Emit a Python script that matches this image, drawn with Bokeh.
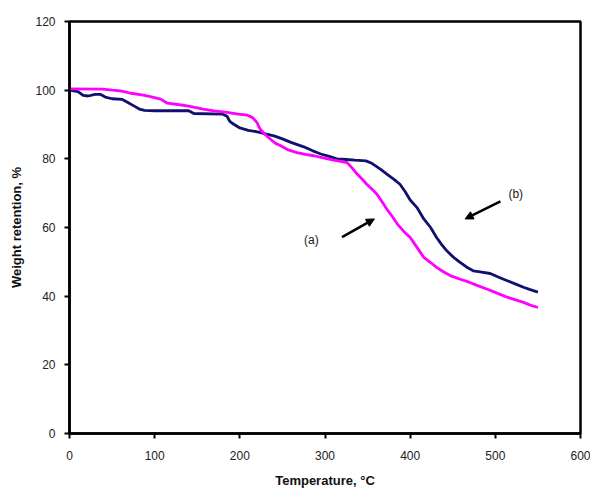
from bokeh.plotting import figure
from bokeh.models import Range1d, SingleIntervalTicker, Arrow, NormalHead, Label
from bokeh.embed import file_html
from bokeh.resources import INLINE

# Curve (b): dark blue
temp_b = [0, 10, 16, 22, 30, 36, 42, 50, 62, 68, 75, 82, 88, 100, 140, 146, 180, 185, 188,
          192, 200, 210, 222, 230, 240, 250, 260, 275, 285, 295, 305, 314, 325, 335, 348,
          355, 365, 373, 381, 388, 394, 400, 408, 416, 424, 431, 437, 443, 451, 459, 466,
          474, 484, 494, 504, 514, 524, 533, 541, 550]
weight_b = [100, 99.6, 98.5, 98.3, 98.8, 98.8, 98, 97.5, 97.3, 96.5, 95.5, 94.5, 94.1, 94, 94,
            93.2, 93, 92.4, 91, 90.2, 89, 88.3, 87.8, 87.3, 86.7, 85.8, 84.8, 83.5, 82.4,
            81.4, 80.7, 80, 79.8, 79.6, 79.4, 78.7, 77, 75.5, 74, 72.6, 70.5, 68, 65.8, 62.5,
            60, 57.1, 55, 53.2, 51.3, 49.8, 48.5, 47.4, 47, 46.6, 45.5, 44.5, 43.5, 42.6,
            41.9, 41.2]

# Curve (a): magenta
temp_a = [0, 39, 50, 60, 72, 85, 95, 107, 115, 125, 138, 147, 157, 170, 185, 198, 209, 215,
          220, 224, 230, 236, 242, 248, 257, 267, 277, 287, 298, 310, 320, 326, 332, 338,
          344, 349, 355, 361, 367, 373, 379, 385, 392, 400, 408, 416, 424, 431, 439, 447,
          458, 470, 480, 490, 502, 514, 524, 533, 541, 550]
weight_a = [100.4, 100.3, 100, 99.8, 99.1, 98.6, 98.1, 97.4, 96.2, 95.9, 95.4, 95, 94.5, 94,
            93.5, 93, 92.7, 92, 90.6, 88.6, 87, 85.7, 84.5, 83.8, 82.6, 81.8, 81.3, 80.9,
            80.3, 79.6, 79.2, 78.9, 77.3, 75.5, 74, 72.6, 71.2, 69.7, 67.5, 65.2, 63.2, 61,
            59, 57.1, 54.2, 51.3, 49.8, 48.4, 47.1, 46, 45, 44, 43, 42.1, 40.9, 39.7, 38.9,
            38.2, 37.4, 36.7]

labels = ["(a)", "(b)"]
label_x = [284, 524]
label_y = [56.4, 69.8]
arrow_start_x = [320, 506]
arrow_start_y = [57.2, 67.6]
arrow_end_x = [358, 464.5]
arrow_end_y = [62.5, 62.5]

FONT = "Liberation Sans"

p = figure(width=590, height=490, output_backend="svg", toolbar_location=None,
           x_range=Range1d(0, 600), y_range=Range1d(0, 120),
           min_border_left=69, min_border_right=10, min_border_top=21, min_border_bottom=57)

p.line(temp_b, weight_b, line_color="#10106e", line_width=2.8)
p.line(temp_a, weight_a, line_color="#ff00ff", line_width=2.8)

for i in range(2):
    p.add_layout(Arrow(end=NormalHead(size=8, fill_color="black", line_color="black"),
                       x_start=arrow_start_x[i], y_start=arrow_start_y[i],
                       x_end=arrow_end_x[i], y_end=arrow_end_y[i],
                       line_color="black", line_width=2.5))
    p.add_layout(Label(x=label_x[i], y=label_y[i], text=labels[i], text_font=FONT,
                       text_font_size="12px", text_color="#1a1a1a",
                       text_align="center", text_baseline="middle"))

p.grid.visible = False
p.outline_line_color = "black"
p.outline_line_width = 2.5

p.xaxis.ticker = SingleIntervalTicker(interval=100)
p.yaxis.ticker = SingleIntervalTicker(interval=20)
for ax in (p.xaxis, p.yaxis):
    ax.axis_line_width = 2.5
    ax.axis_line_color = "black"
    ax.major_tick_line_width = 2
    ax.major_tick_line_color = "black"
    ax.major_tick_out = 5
    ax.major_tick_in = 0
    ax.minor_tick_line_color = None
    ax.major_label_text_font = FONT
    ax.major_label_text_font_size = "12px"
    ax.major_label_text_color = "#222222"
    ax.axis_label_text_font = FONT
    ax.axis_label_text_font_size = "13px"
    ax.axis_label_text_font_style = "bold"
    ax.axis_label_text_color = "#111111"

p.xaxis.axis_label = "Temperature, °C"
p.yaxis.axis_label = "Weight retention, %"
p.xaxis.major_label_standoff = 12
p.yaxis.major_label_standoff = 9
p.xaxis.axis_label_standoff = 10
p.yaxis.axis_label_standoff = 8

open("out.html", "w").write(file_html(p, INLINE))
